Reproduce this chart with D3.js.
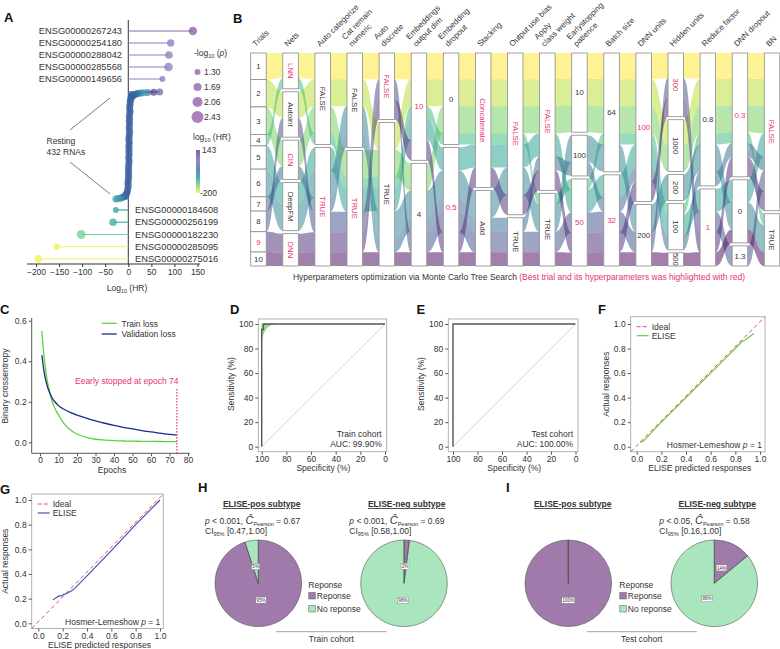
<!DOCTYPE html>
<html><head><meta charset="utf-8">
<script src="https://cdn.jsdelivr.net/npm/d3@7"></script>
<style>body{margin:0;background:#fff}svg{display:block;font-family:"Liberation Sans",Arial,Helvetica,sans-serif}</style>
</head><body><svg id="c" width="780" height="649"></svg>
<script>
// ---------------- DATA ----------------
// Panel A
const topGenes = ["ENSG00000267243","ENSG00000254180","ENSG00000288042","ENSG00000285568","ENSG00000149656"];
const topHR = [140, 92, 88, 87, 74];
const topP = [1.75, 1.55, 1.6, 1.8, 1.3];
const bottomGenes = ["ENSG00000184608","ENSG00000256199","ENSG00000182230","ENSG00000285095","ENSG00000275016"];
const bottomHR = [-27, -33, -102, -155, -195];
const bottomP = [1.3, 1.6, 1.85, 1.35, 1.65];
const restingRank = [1,2,3,4,5,6,7,9,11,14,17,21,26,32,40,50,60,70,80,90,100,110,120,130,140,150,160,170,180,190,200,210,220,230,240,250,260,270,280,290,300,310,320,330,340,350,360,370,380,390,400,408,414,419,423,426,428,430,431,432];
const restingHR = [68,55,42,33,28,24,20,17,14,11,9,7,6,5,4,4,3,3,4,3,2,3,2,3,2,2,3,2,2,1,2,2,1,2,1,2,1,1,2,1,1,0,1,0,1,0,0,-1,0,-1,-2,-3,-5,-7,-10,-13,-16,-20,-24,-27];
const restingP = 1.3;
const sizeLegend = [1.30, 1.69, 2.06, 2.43];
const hrTicks = [-200,-150,-100,-50,0,50,100,150];
const hrRange = [143, -200];

// Panel B
const trialIds = ["1","2","3","4","5","6","7","8","9","10"];
const trialScores = [26.6,27.4,27.6,11.4,23.3,27.7,14.3,20.7,20.3,14.0];
const hpHeaders = ["Trials","Nets","Auto categorize","Cat remain\nnumeric","Auto\ndiscrete","Embeddings\noutput dim","Embedding\ndropout","Stacking","Output use bias","Apply\nclass weight","Earlystopping\npatience","Batch size","DNN units","Hidden units","Reduce factor","DNN dropout","BN"];
const hpLevels = [trialIds,["LNN","Autoint","CIN","DeepFM","DNN"],["FALSE","TRUE"],["FALSE","TRUE"],["FALSE","TRUE"],["10","4"],["0","0.5"],["Concatenate","Add"],["FALSE","TRUE"],["FALSE","TRUE"],["10","100","50"],["64","32"],["100","200"],["300","1000","200","100","500"],["0.8","1"],["0.3","0","1.3"],["FALSE","TRUE"]];
const hpAssign = [
 [0,1,2,3,4,5,6,7,8,9],
 [0,1,2,0,3,3,2,1,4,4],
 [0,0,0,0,1,1,1,1,1,1],
 [0,0,1,1,1,0,0,1,1,1],
 [0,1,1,1,1,1,1,0,0,1],
 [0,0,1,0,0,1,1,1,0,1],
 [0,0,0,0,1,1,1,1,1,1],
 [0,0,0,0,0,1,1,1,0,1],
 [0,0,0,0,0,0,1,1,0,1],
 [0,0,0,1,0,1,0,1,0,1],
 [0,0,0,2,2,1,1,2,2,2],
 [0,0,0,0,1,0,1,1,1,1],
 [0,0,0,0,0,1,0,1,0,1],
 [0,1,1,3,3,2,3,0,0,4],
 [0,0,0,0,1,0,0,1,1,1],
 [0,0,0,0,1,1,0,2,0,1],
 [0,0,0,1,0,1,0,0,0,1]];
const hpHighlight = [[8],[0,2,4],[1],[1],[0],[0],[1],[0],[0],[0],[2],[1],[0],[0],[1],[0],[0]];

// Panel C
const epochs = [1,2,3,4,5,6,7,8,9,10,12,14,16,18,20,25,30,35,40,45,50,55,60,65,70,74];
const trainLoss = [0.55,0.44,0.36,0.30,0.26,0.22,0.19,0.168,0.15,0.135,0.105,0.082,0.064,0.051,0.041,0.024,0.015,0.011,0.008,0.0065,0.0055,0.005,0.0045,0.004,0.0035,0.003];
const valLoss = [0.43,0.36,0.31,0.275,0.25,0.228,0.212,0.2,0.19,0.181,0.168,0.158,0.149,0.141,0.134,0.119,0.106,0.094,0.083,0.074,0.066,0.058,0.051,0.045,0.039,0.035];
const stopEpoch = 74;

// Panel D / E
const rocTrain = [[100,0],[100,95.5],[98.6,95.5],[98.6,100],[0,100]];
const rocTrainCI = [[100,87],[99.2,90.5],[97.8,94],[95.8,97],[93.2,99],[90,100],[100,100]];
const rocTest = [[100,0],[100,100],[0,100]];
const pctTicks = [0,20,40,60,80,100];

// Panel F / G
const calTrain = [[0.03,0.035],[0.06,0.05],[0.1,0.095],[0.2,0.2],[0.3,0.3],[0.4,0.4],[0.5,0.5],[0.6,0.6],[0.7,0.7],[0.8,0.8],[0.85,0.853],[0.88,0.872],[0.92,0.9],[0.95,0.922]];
const calTest = [[0.12,0.19],[0.15,0.21],[0.17,0.222],[0.19,0.222],[0.21,0.235],[0.23,0.24],[0.25,0.252],[0.27,0.262],[0.3,0.283],[0.4,0.385],[0.6,0.59],[0.8,0.8],[1.0,1.0]];
const calTicks = [0,0.2,0.4,0.6,0.8,1.0];

// Panel H / I
const pieLegend = ["Reponse","No reponse"];
const trainPos = [95,5], trainNeg = [2,98], testPos = [100,0], testNeg = [14,86];
const statP = ["0.001","0.001","0.05"], statC = ["0.67","0.69","0.58"], statCI = ["0.47,1.00","0.58,1.00","0.16,1.00"];

// ---------------- DRAW ----------------
const svg = d3.select("#c");
svg.append("rect").attr("width",780).attr("height",649).attr("fill","#fff");
const TXT = "#333", RED = "#e6336e";
function label(t,x,y){ svg.append("text").attr("x",x).attr("y",y).attr("font-size",13).attr("font-weight","bold").attr("fill","#111").text(t); }
function txt(g,x,y,s,size,anchor){ return g.append("text").attr("x",x).attr("y",y).attr("font-size",size||8.5).attr("fill",TXT).attr("text-anchor",anchor||"start").text(s); }

// ===== Panel A =====
{
 const g = svg.append("g");
 const xA = d3.scaleLinear().domain([-200,150]).range([36,197.5]);
 const yTop = d3.scalePoint().domain(topGenes).range([31,79]);
 const yBot = d3.scalePoint().domain(bottomGenes).range([210,259]);
 const yRest = d3.scaleLinear().domain([1,432]).range([92,199]);
 const rA = d3.scaleLinear().domain([1.3,2.43]).range([3,6]);
 const colA = d3.scaleLinear().domain([-200,-150,-100,-30,-8,12,30,60,75,143])
   .range(["#f3f25e","#f0ef62","#6fd393","#43b2a2","#3d62a3","#3d62a3","#36a6a6","#4a2f86","#8e8bc8","#8e62ae"]);
 g.append("line").attr("x1",xA(0)).attr("x2",xA(0)).attr("y1",20).attr("y2",264).attr("stroke","#333").attr("stroke-width",1);
 g.append("line").attr("x1",27).attr("x2",200).attr("y1",264).attr("y2",264).attr("stroke","#333");
 const ax = g.append("g").attr("transform","translate(0,264)").call(d3.axisBottom(xA).tickValues(hrTicks).tickSize(3).tickPadding(2));
 ax.select(".domain").remove();
 ax.selectAll("line").attr("stroke","#333");
 ax.selectAll("text").attr("font-size",8.5).attr("fill",TXT).attr("font-family",null);
 const at = txt(g,127,291,"Log",8.5,"middle");
 at.append("tspan").attr("font-size",5.5).attr("dy",2).text("10");
 at.append("tspan").attr("dy",-2).text(" (HR)");
 restingHR.forEach((v,i)=>{
   const y = yRest(restingRank[i]);
   g.append("line").attr("x1",xA(0)).attr("x2",xA(v)).attr("y1",y).attr("y2",y).attr("stroke",colA(v)).attr("stroke-width",1);
 });
 restingHR.forEach((v,i)=>{
   g.append("circle").attr("cx",xA(v)).attr("cy",yRest(restingRank[i])).attr("r",rA(restingP)+0.5).attr("fill",colA(v)).attr("fill-opacity",0.7);
 });
 function lolli(names,vals,ps,ys,side){
   names.forEach((n,i)=>{
     const y = ys(n), c = colA(vals[i]);
     g.append("line").attr("x1",xA(0)).attr("x2",xA(vals[i])).attr("y1",y).attr("y2",y).attr("stroke",c).attr("stroke-width",1.2);
     g.append("circle").attr("cx",xA(vals[i])).attr("cy",y).attr("r",rA(ps[i])).attr("fill",c).attr("fill-opacity",0.8);
     if(side==="left") txt(g,122,y+3.2,n,9.3,"end"); else txt(g,135,y+3.2,n,9.3,"start");
   });
 }
 lolli(topGenes,topHR,topP,yTop,"left");
 lolli(bottomGenes,bottomHR,bottomP,yBot,"right");
 g.append("line").attr("x1",110).attr("y1",98).attr("x2",70).attr("y2",130).attr("stroke","#444").attr("stroke-width",0.7);
 g.append("line").attr("x1",70).attr("y1",162).attr("x2",110).attr("y2",194).attr("stroke","#444").attr("stroke-width",0.7);
 txt(g,46.5,144,"Resting",8.5); txt(g,46.5,155,"432 RNAs",8.5);
 const lt = txt(g,194,56,"-log",8.5);
 lt.append("tspan").attr("font-size",5.5).attr("dy",2).text("10");
 lt.append("tspan").attr("dy",-2).text(" (");
 lt.append("tspan").attr("font-style","italic").text("p");
 lt.append("tspan").text(")");
 const ly = d3.scalePoint().domain(sizeLegend).range([72,117]);
 sizeLegend.forEach(p=>{
   g.append("circle").attr("cx",197.5).attr("cy",ly(p)).attr("r",rA(p)).attr("fill","#9a6fb0").attr("fill-opacity",0.85);
   txt(g,204,ly(p)+3,p.toFixed(2),8.5);
 });
 const ct = txt(g,193,140,"log",8.5);
 ct.append("tspan").attr("font-size",5.5).attr("dy",2).text("10");
 ct.append("tspan").attr("dy",-2).text(" (HR)");
 const defs = svg.append("defs");
 const grad = defs.append("linearGradient").attr("id","cbar").attr("x1",0).attr("x2",0).attr("y1",0).attr("y2",1);
 [[0,"#8b5aa8"],[0.25,"#8e8ec6"],[0.45,"#6d86b6"],[0.65,"#48b3a6"],[0.85,"#9be08f"],[1,"#f7f55e"]].forEach(s=>grad.append("stop").attr("offset",s[0]).attr("stop-color",s[1]));
 const yc = d3.scaleLinear().domain(hrRange).range([150,193]);
 g.append("rect").attr("x",196).attr("y",yc(hrRange[0])).attr("width",4).attr("height",yc(hrRange[1])-yc(hrRange[0])).attr("fill","url(#cbar)");
 txt(g,202,yc(hrRange[0])+3,String(hrRange[0]),8.5);
 txt(g,200,yc(hrRange[1])+3,String(hrRange[1]),8.5);
}
label("A",4,22);

// ===== Panel B =====
{
 const g = svg.append("g");
 const colX = d3.scalePoint().domain(d3.range(hpHeaders.length)).range([250.7,764.3]);
 const barW = 15.5, top = 53, H = 213;
 const trialColor = d3.scaleSequential(t=>d3.interpolateViridis(1-t)).domain([0,9]);
 const sumW = d3.sum(trialScores);
 const layouts = hpAssign.map((assign,c)=>{
   const nc = hpLevels[c].length, gap = c===0?0:3;
   const h = d3.scaleLinear().domain([0,sumW]).range([0,H-gap*(nc-1)]);
   let y = top; const cats=[], tp=[];
   for(let ci=0;ci<nc;ci++){
     const y0=y;
     assign.forEach((a,t)=>{ if(a===ci){ tp[t]=[y,y+h(trialScores[t])]; y+=h(trialScores[t]); } });
     cats.push([y0,y]); y+=gap;
   }
   return {cats,tp};
 });
 for(let c=0;c<hpHeaders.length-1;c++){
   const x0 = colX(c)+barW, x1 = colX(c+1), xm=(x0+x1)/2;
   for(let t=0;t<10;t++){
     const a = layouts[c].tp[t], b = layouts[c+1].tp[t];
     const p = `M${x0},${a[0]}C${xm},${a[0]} ${xm},${b[0]} ${x1},${b[0]}L${x1},${b[1]}C${xm},${b[1]} ${xm},${a[1]} ${x0},${a[1]}Z`;
     g.append("path").attr("d",p).attr("fill",trialColor(t)).attr("fill-opacity",0.5);
   }
 }
 hpHeaders.forEach((hd,c)=>{
   const x = colX(c);
   layouts[c].cats.forEach((ext,ci)=>{
     g.append("rect").attr("x",x).attr("y",ext[0]).attr("width",barW).attr("height",ext[1]-ext[0]).attr("fill","#fff").attr("stroke","#8a8a8a").attr("stroke-width",0.8);
     const lab = hpLevels[c][ci], cy=(ext[0]+ext[1])/2, cx=x+barW/2;
     const red = hpHighlight[c].includes(ci);
     const rot = (c!==0) && (isNaN(+lab) || c===13);
     const t = g.append("text").attr("font-size",7.8).attr("fill",red?RED:TXT).attr("text-anchor","middle").text(lab);
     if(rot) t.attr("transform",`translate(${cx-2.7},${cy}) rotate(90)`);
     else t.attr("x",cx).attr("y",cy+2.8);
   });
   const lines = hd.split("\n");
   const ht = g.append("text").attr("transform",`translate(${x+5},47) rotate(-45)`).attr("font-size",8).attr("fill",TXT);
   lines.forEach((ln,j)=>ht.append("tspan").attr("x",0).attr("y",(j-(lines.length-1))*10).text(ln));
 });
 const cap = g.append("text").attr("x",519).attr("y",280).attr("font-size",8.5).attr("fill",TXT).attr("text-anchor","middle");
 cap.append("tspan").text("Hyperparameters optimization via Monte Carlo Tree Search ");
 cap.append("tspan").attr("fill",RED).text("(Best trial and its hyperparameters was highlighted with red)");
}
label("B",233,23);

// ===== generic axis helpers =====
function leftAxis(g,scale,x,ticks,fmt){
  const a = g.append("g").attr("transform",`translate(${x},0)`).call(d3.axisLeft(scale).tickValues(ticks).tickFormat(fmt).tickSize(3).tickPadding(2));
  a.select(".domain").remove(); a.selectAll("line").attr("stroke","#555");
  a.selectAll("text").attr("font-size",8.5).attr("fill",TXT).attr("font-family",null);
}
function bottomAxis(g,scale,y,ticks,fmt){
  const a = g.append("g").attr("transform",`translate(0,${y})`).call(d3.axisBottom(scale).tickValues(ticks).tickFormat(fmt).tickSize(3).tickPadding(1));
  a.select(".domain").remove(); a.selectAll("line").attr("stroke","#555");
  a.selectAll("text").attr("font-size",8.5).attr("fill",TXT).attr("font-family",null);
}
function vtitle(g,x,y,s){ g.append("text").attr("transform",`translate(${x},${y}) rotate(-90)`).attr("text-anchor","middle").attr("font-size",8.5).attr("fill",TXT).text(s); }

// ===== Panel C =====
{
 const g = svg.append("g");
 const x = d3.scaleLinear().domain([0,80]).range([40,188]);
 const y = d3.scaleLinear().domain([0,0.6]).range([442.3,320.7]);
 g.append("path").attr("d","M31.7,318V453.3H190").attr("fill","none").attr("stroke","#555");
 leftAxis(g,y,31.7,[0,0.2,0.4,0.6],d3.format(".1f"));
 bottomAxis(g,x,453.3,[0,10,20,30,40,50,60,70,80],d3.format("d"));
 const ln = d3.line().x((d,i)=>x(epochs[i])).y(d=>y(d)).curve(d3.curveMonotoneX);
 g.append("path").attr("d",ln(trainLoss)).attr("fill","none").attr("stroke","#5ad43c").attr("stroke-width",1.3);
 g.append("path").attr("d",ln(valLoss)).attr("fill","none").attr("stroke","#1b2a86").attr("stroke-width",1.3);
 g.append("line").attr("x1",x(stopEpoch)).attr("x2",x(stopEpoch)).attr("y1",389).attr("y2",453).attr("stroke",RED).attr("stroke-width",1.2).attr("stroke-dasharray","1.5,1.5");
 g.append("text").attr("x",75).attr("y",384).attr("font-size",8.5).attr("fill",RED).text("Eearly stopped at epoch "+stopEpoch);
 g.append("line").attr("x1",101.7).attr("x2",116.7).attr("y1",323.3).attr("y2",323.3).attr("stroke","#5ad43c").attr("stroke-width",1.3);
 g.append("line").attr("x1",101.7).attr("x2",116.7).attr("y1",334).attr("y2",334).attr("stroke","#1b2a86").attr("stroke-width",1.3);
 txt(g,121.5,326.5,"Train loss",8.5); txt(g,121.5,337.2,"Validation loss",8.5);
 vtitle(g,8,386,"Binary crossentropy");
 txt(g,112,473,"Epochs",8.5,"middle");
}
label("C",0,314);

// ===== Panel D/E =====
function rocPanel(x0,x1,fx0,fx1,curve,ci,line1,line2){
 const g = svg.append("g");
 const x = d3.scaleLinear().domain([100,0]).range([x0,x1]);
 const y = d3.scaleLinear().domain([0,100]).range([446.7,324]);
 g.append("rect").attr("x",fx0).attr("y",319).attr("width",fx1-fx0).attr("height",451.7-319).attr("fill","none").attr("stroke","#aaa").attr("stroke-width",0.9);
 leftAxis(g,y,fx0,pctTicks,d3.format("d"));
 bottomAxis(g,x,451.7,pctTicks,d3.format("d"));
 g.append("line").attr("x1",x(100)).attr("y1",y(0)).attr("x2",x(0)).attr("y2",y(100)).attr("stroke","#c8c8c8").attr("stroke-width",0.8);
 const ln = d3.line().x(d=>x(d[0])).y(d=>y(d[1]));
 if(ci) g.append("path").attr("d",d3.line().x(d=>x(d[0])).y(d=>y(d[1])).curve(d3.curveLinearClosed)(ci)).attr("fill","#96e38e").attr("stroke","#6cc364").attr("stroke-width",0.5);
 g.append("path").attr("d",ln(curve)).attr("fill","none").attr("stroke","#555").attr("stroke-width",1.4);
 txt(g,fx1-5,437,line1,8.5,"end"); txt(g,fx1-5,447,line2,8.5,"end");
 vtitle(g,fx0-24,384,"Sensitivity (%)");
 txt(g,(x0+x1)/2,471,"Specificity (%)",8.5,"middle");
}
rocPanel(261.7,385,258.3,386.7,rocTrain,rocTrainCI,"Train cohort","AUC: 99.90%");
rocPanel(453,575.5,448.3,578,rocTest,null,"Test cohort","AUC: 100.00%");
label("D",230,314); label("E",416.5,314);

// ===== Panel F/G =====
function calPanel(x0,x1,y0,y1,fx0,fy0,fx1,fy1,data,col,ylabX,xlabY){
 const g = svg.append("g");
 const x = d3.scaleLinear().domain([0,1]).range([x0,x1]);
 const y = d3.scaleLinear().domain([0,1]).range([y0,y1]);
 g.append("rect").attr("x",fx0).attr("y",fy0).attr("width",fx1-fx0).attr("height",fy1-fy0).attr("fill","none").attr("stroke","#aaa").attr("stroke-width",0.9);
 leftAxis(g,y,fx0,calTicks,d3.format(".1f"));
 bottomAxis(g,x,fy1,calTicks,d3.format(".1f"));
 g.append("line").attr("x1",fx0).attr("y1",fy1).attr("x2",fx1).attr("y2",fy0).attr("stroke","#e2457c").attr("stroke-width",1).attr("stroke-dasharray","4,3");
 g.append("path").attr("d",d3.line().x(d=>x(d[0])).y(d=>y(d[1]))(data)).attr("fill","none").attr("stroke",col).attr("stroke-width",1.2);
 g.append("line").attr("x1",fx0+6).attr("x2",fx0+18).attr("y1",fy0+10).attr("y2",fy0+10).attr("stroke","#e2457c").attr("stroke-width",1).attr("stroke-dasharray","4,2");
 g.append("line").attr("x1",fx0+6).attr("x2",fx0+18).attr("y1",fy0+19).attr("y2",fy0+19).attr("stroke",col).attr("stroke-width",1.2);
 txt(g,fx0+21,fy0+13,"Ideal",8.5); txt(g,fx0+21,fy0+22,"ELISE",8.5);
 const h = txt(g,fx1-3,fy1-4,"Hosmer-Lemeshow ",8.5,"end");
 h.append("tspan").attr("font-style","italic").text("p");
 h.append("tspan").text(" = 1");
 vtitle(g,ylabX,(fy0+fy1)/2,"Actual responses");
 txt(g,(fx0+fx1)/2+2,xlabY,"ELISE predicted responses",8.5,"middle");
}
calPanel(636.7,760,446.7,324,630.7,316.7,765,451.7,calTrain,"#6cc644",609,470.5);
calPanel(38.3,160,623.3,500,31.7,494,163.3,628.5,calTest,"#4656a6",8,647.5);
label("F",598,314); label("G",0,494);

// ===== Panel H/I =====
const pieColors = ["#a07aab","#a9e6bd"];
function drawPie(cx,cy,vals){
 const r = 43.3;
 const arcs = d3.pie().sort(null).value(d=>d)(vals);
 const arc = d3.arc().innerRadius(0).outerRadius(r);
 const g = svg.append("g").attr("transform",`translate(${cx},${cy})`);
 g.selectAll("path").data(arcs).join("path").attr("d",arc).attr("fill",(d,i)=>pieColors[i]).attr("stroke","#555").attr("stroke-width",0.6);
 arcs.forEach(d=>g.append("line").attr("x1",0).attr("y1",0).attr("x2",r*Math.sin(d.startAngle)).attr("y2",-r*Math.cos(d.startAngle)).attr("stroke","#555").attr("stroke-width",0.6));
 const la = d3.arc().innerRadius(17).outerRadius(17);
 arcs.filter(d=>d.value>0).forEach(d=>{
   const [lx,ly] = la.centroid(d); const s = d.value+"%"; const w = s.length*2.5+3;
   g.append("rect").attr("x",lx-w/2).attr("y",ly-3).attr("width",w).attr("height",6).attr("fill","#fff").attr("stroke","#777").attr("stroke-width",0.4);
   g.append("text").attr("x",lx).attr("y",ly+1.7).attr("text-anchor","middle").attr("font-size",4.6).attr("fill",TXT).text(s);
 });
}
function subtitle(x,s){ svg.append("text").attr("x",x).attr("y",507).attr("text-anchor","middle").attr("font-size",8.5).attr("font-weight","bold").attr("fill",TXT).attr("text-decoration","underline").text(s); }
function stats(x,i){
 const t = txt(svg,x,524,"",8.5);
 t.append("tspan").attr("font-style","italic").text("p");
 t.append("tspan").text(" < "+statP[i]+", ");
 t.append("tspan").attr("font-style","italic").attr("font-size",11).text("Ĉ");
 t.append("tspan").attr("font-size",5.5).attr("dy",2).text("Pearson");
 t.append("tspan").attr("dy",-2).text(" = "+statC[i]);
 const t2 = txt(svg,x,534,"CI",8.5);
 t2.append("tspan").attr("font-size",5.5).attr("dy",2).text("95%");
 t2.append("tspan").attr("dy",-2).text(" ["+statCI[i]+"]");
}
function pieLeg(x){
 txt(svg,x,588,"Reponse",8.5);
 pieLegend.forEach((s,i)=>{
   svg.append("rect").attr("x",x+0.5).attr("y",592.5+i*13).attr("width",6.5).attr("height",6.5).attr("fill",pieColors[i]).attr("stroke","#555").attr("stroke-width",0.5);
   txt(svg,x+8.5,599+i*13,s,8.5);
 });
}
function cohort(x0,x1,s){
 svg.append("line").attr("x1",x0).attr("x2",x1).attr("y1",631.7).attr("y2",631.7).attr("stroke","#999").attr("stroke-width",0.9);
 txt(svg,(x0+x1)/2,641.5,s,8.5,"middle");
}
subtitle(261.7,"ELISE-pos subtype"); subtitle(406.7,"ELISE-neg subtype");
stats(205,0); stats(349.3,1);
drawPie(258.3,583.3,trainPos); drawPie(404,583.3,trainNeg);
pieLeg(308.3); cohort(276,386.7,"Train cohort");
subtitle(572.7,"ELISE-pos subtype"); subtitle(717.3,"ELISE-neg subtype");
stats(659.3,2);
drawPie(568.3,583.3,testPos); drawPie(714.3,583.3,testNeg);
pieLeg(619.3); cohort(586.7,696.7,"Test cohort");
label("H",198,492); label("I",506,492);
</script></body></html>
